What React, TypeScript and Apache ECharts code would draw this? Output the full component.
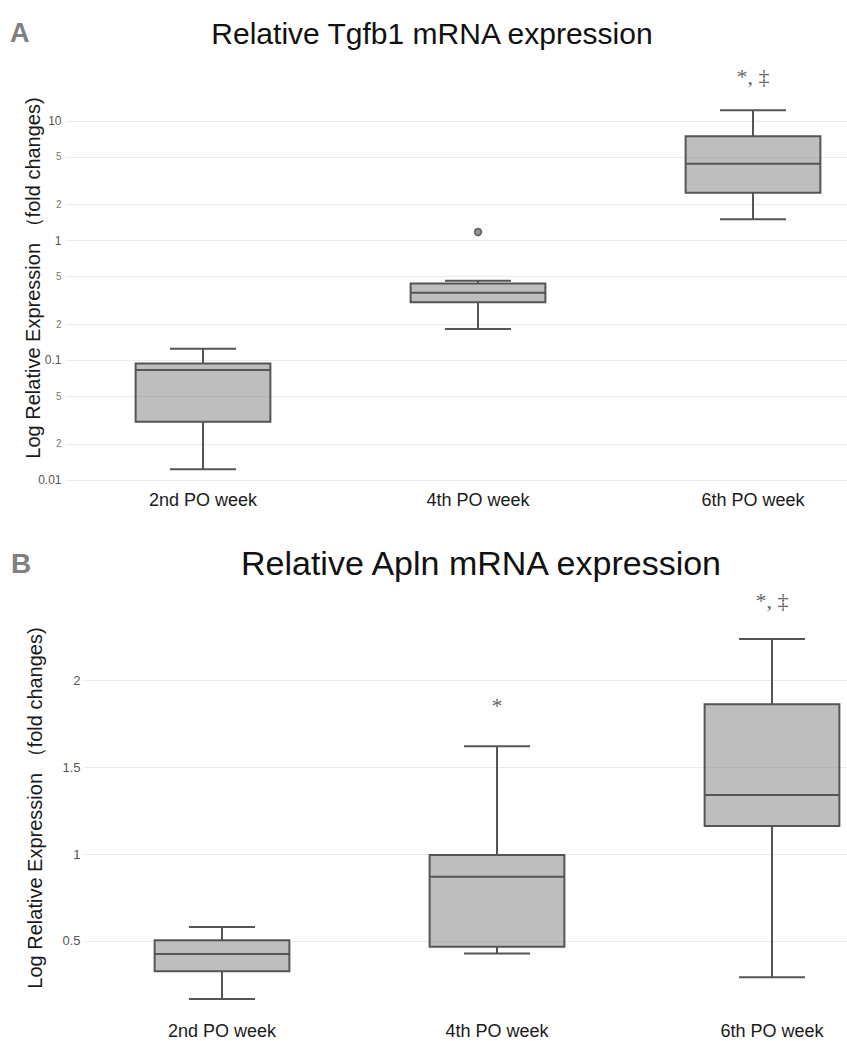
import React, { useEffect, useRef } from "react";
import * as echarts from "echarts";

const categories = ["2nd PO week", "4th PO week", "6th PO week"];

// Panel A – Relative Tgfb1 mRNA expression (log axis)
const tgfb1Low = [0.0123, 0.183, 1.51];
const tgfb1Q1 = [0.0306, 0.306, 2.51];
const tgfb1Median = [0.0828, 0.366, 4.38];
const tgfb1Q3 = [0.0942, 0.439, 7.46];
const tgfb1High = [0.125, 0.462, 12.3];
const tgfb1OutlierCats = [1];
const tgfb1OutlierValues = [1.18];
const tgfb1Ticks = [10, 5, 2, 1, 0.5, 0.2, 0.1, 0.05, 0.02, 0.01];
const tgfb1TickLabels = ["10", "5", "2", "1", "5", "2", "0.1", "5", "2", "0.01"];
const tgfb1MajorTicks = [10, 1, 0.1, 0.01];
const tgfb1AnnotCats = [2];
const tgfb1AnnotValues = [23.3];
const tgfb1AnnotTexts = ["*, ‡"];

// Panel B – Relative Apln mRNA expression (linear axis)
const aplnLow = [0.165, 0.427, 0.291];
const aplnQ1 = [0.325, 0.467, 1.163];
const aplnMedian = [0.425, 0.87, 1.341];
const aplnQ3 = [0.504, 0.995, 1.864];
const aplnHigh = [0.58, 1.622, 2.24];
const aplnTicks = [2, 1.5, 1, 0.5];
const aplnTickLabels = ["2", "1.5", "1", "0.5"];
const aplnAnnotCats = [1, 2];
const aplnAnnotValues = [1.86, 2.465];
const aplnAnnotTexts = ["*", "*, ‡"];

const FONT = '"Liberation Sans", Arial, sans-serif';
const LINE = "#555555";
const CHART_W = 920;

function boxRows(low: number[], q1: number[], med: number[], q3: number[], high: number[]) {
  return categories.map((_, i) => [i, low[i], q1[i], med[i], q3[i], high[i]]);
}

const renderBox = (params: any, api: any) => {
  const idx = api.value(0);
  const med = api.value(3);
  const pLow = api.coord([idx, api.value(1)]);
  const pQ1 = api.coord([idx, api.value(2)]);
  const pMed = api.coord([idx, med]);
  const pQ3 = api.coord([idx, api.value(4)]);
  const pHigh = api.coord([idx, api.value(5)]);
  const band = Math.abs(api.coord([1, med])[0] - api.coord([0, med])[0]);
  const bw = band * 0.49;
  const cw = bw * 0.49;
  const x = pMed[0];
  const ls = { stroke: LINE, lineWidth: 2, fill: "none" };
  return {
    type: "group",
    children: [
      { type: "line", shape: { x1: x, y1: pHigh[1], x2: x, y2: pQ3[1] }, style: ls },
      { type: "line", shape: { x1: x, y1: pQ1[1], x2: x, y2: pLow[1] }, style: ls },
      { type: "line", shape: { x1: x - cw / 2, y1: pHigh[1], x2: x + cw / 2, y2: pHigh[1] }, style: ls },
      { type: "line", shape: { x1: x - cw / 2, y1: pLow[1], x2: x + cw / 2, y2: pLow[1] }, style: ls },
      {
        type: "rect",
        shape: { x: x - bw / 2, y: pQ3[1], width: bw, height: pQ1[1] - pQ3[1] },
        style: { fill: "rgba(125,125,125,0.5)", stroke: LINE, lineWidth: 2 },
      },
      { type: "line", shape: { x1: x - bw / 2, y1: pMed[1], x2: x + bw / 2, y2: pMed[1] }, style: ls },
    ],
  };
};

function gridLines(ticks: number[], labels: string[], major: number[] | null, fontSize: number) {
  return {
    silent: true,
    z: 0,
    symbol: ["none", "none"],
    itemStyle: { color: "#666" },
    lineStyle: { color: "#ebebeb", width: 1, type: "solid" },
    label: { show: true, position: "start", distance: 4, formatter: "{b}", color: "#666", fontFamily: FONT },
    data: ticks.map((t, i) => ({
      yAxis: t,
      name: labels[i],
      label: {
        color: major && !major.includes(t) ? "#777" : "#555",
        fontFamily: FONT,
        fontSize: major ? (major.includes(t) ? 12 : 10) : fontSize,
      },
    })),
  };
}

export default function App() {
  const ref = useRef<HTMLDivElement>(null);
  useEffect(() => {
    if (!ref.current) return;
    const chart = echarts.init(ref.current, undefined, { renderer: "svg" });
    const option: any = {
      animation: false,
      backgroundColor: "#ffffff",
      textStyle: { fontFamily: FONT },
      grid: [
        { left: 65.5, right: CHART_W - 890.5, top: 75, bottom: 561 },
        { left: 84.5, right: CHART_W - 909.5, top: 590.5, bottom: 30.65 },
      ],
      xAxis: [
        {
          type: "category",
          gridIndex: 0,
          data: categories,
          axisLine: { show: false },
          axisTick: { show: false },
          splitLine: { show: false },
          axisLabel: { fontSize: 18, color: "#1a1a1a", margin: 11 },
        },
        {
          type: "category",
          gridIndex: 1,
          data: categories,
          axisLine: { show: false },
          axisTick: { show: false },
          splitLine: { show: false },
          axisLabel: { fontSize: 18, color: "#1a1a1a", margin: 12 },
        },
      ],
      yAxis: [
        {
          type: "log",
          gridIndex: 0,
          logBase: 10,
          min: 0.01,
          max: 24.2,
          axisLine: { show: false },
          axisTick: { show: false },
          axisLabel: { show: false },
          splitLine: { show: false },
        },
        {
          type: "value",
          gridIndex: 1,
          min: 0.1,
          max: 2.52,
          axisLine: { show: false },
          axisTick: { show: false },
          axisLabel: { show: false },
          splitLine: { show: false },
        },
      ],
      graphic: [
        {
          type: "text",
          x: 10,
          y: 33,
          style: { text: "A", fontSize: 27, fontWeight: "bold", fontFamily: FONT, fill: "#808080", verticalAlign: "middle" },
        },
        {
          type: "text",
          x: 432,
          y: 33,
          style: { text: "Relative Tgfb1 mRNA expression", fontSize: 30, fontFamily: FONT, fill: "#111", align: "center", verticalAlign: "middle" },
        },
        {
          type: "text",
          x: 33,
          y: 278,
          rotation: Math.PI / 2,
          style: { text: "Log Relative Expression （fold changes)", fontSize: 20, fontFamily: FONT, fill: "#1a1a1a", align: "center", verticalAlign: "middle" },
        },
        {
          type: "text",
          x: 11,
          y: 563,
          style: { text: "B", fontSize: 28, fontWeight: "bold", fontFamily: FONT, fill: "#808080", verticalAlign: "middle" },
        },
        {
          type: "text",
          x: 481,
          y: 563,
          style: { text: "Relative Apln mRNA expression", fontSize: 34, fontFamily: FONT, fill: "#111", align: "center", verticalAlign: "middle" },
        },
        {
          type: "text",
          x: 35,
          y: 808,
          rotation: Math.PI / 2,
          style: { text: "Log Relative Expression （fold changes)", fontSize: 20, fontFamily: FONT, fill: "#1a1a1a", align: "center", verticalAlign: "middle" },
        },
      ],
      series: [
        {
          type: "custom",
          xAxisIndex: 0,
          yAxisIndex: 0,
          z: 3,
          renderItem: renderBox,
          encode: { x: 0, y: [1, 2, 3, 4, 5] },
          data: boxRows(tgfb1Low, tgfb1Q1, tgfb1Median, tgfb1Q3, tgfb1High),
        },
        {
          type: "scatter",
          xAxisIndex: 0,
          yAxisIndex: 0,
          z: 4,
          clip: false,
          symbol: "circle",
          symbolSize: 7,
          itemStyle: { color: "#777", borderColor: "#444", borderWidth: 1.5 },
          data: tgfb1OutlierCats.map((c, i) => [c, tgfb1OutlierValues[i]]),
          markLine: gridLines(tgfb1Ticks, tgfb1TickLabels, tgfb1MajorTicks, 11),
        },
        {
          type: "scatter",
          xAxisIndex: 0,
          yAxisIndex: 0,
          z: 4,
          clip: false,
          symbolSize: 0,
          label: { show: true, position: "inside", formatter: "{b}", fontSize: 22, fontFamily: '"Liberation Serif", serif', color: "#3a3a3a" },
          data: tgfb1AnnotCats.map((c, i) => ({ value: [c, tgfb1AnnotValues[i]], name: tgfb1AnnotTexts[i] })),
        },
        {
          type: "custom",
          xAxisIndex: 1,
          yAxisIndex: 1,
          z: 3,
          renderItem: renderBox,
          encode: { x: 0, y: [1, 2, 3, 4, 5] },
          data: boxRows(aplnLow, aplnQ1, aplnMedian, aplnQ3, aplnHigh),
        },
        {
          type: "scatter",
          xAxisIndex: 1,
          yAxisIndex: 1,
          z: 4,
          clip: false,
          symbolSize: 0,
          label: { show: true, position: "inside", formatter: "{b}", fontSize: 22, fontFamily: '"Liberation Serif", serif', color: "#3a3a3a" },
          data: aplnAnnotCats.map((c, i) => ({ value: [c, aplnAnnotValues[i]], name: aplnAnnotTexts[i] })),
          markLine: gridLines(aplnTicks, aplnTickLabels, null, 13),
        },
      ],
    };
    chart.setOption(option);
    return () => chart.dispose();
  }, []);
  return (
    <div style={{ position: "absolute", left: 0, top: 0, width: 847, height: 1041, overflow: "hidden", background: "#fff" }}>
      <div ref={ref} style={{ width: CHART_W, height: 1041 }} />
    </div>
  );
}
